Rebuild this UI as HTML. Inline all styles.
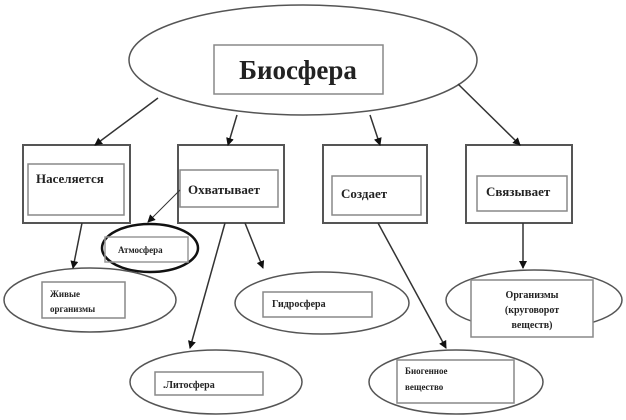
<!DOCTYPE html>
<html><head><meta charset="utf-8"><style>
html,body{margin:0;padding:0;background:#fff;}
svg{display:block;}
text{font-family:"Liberation Serif","Noto Serif CJK SC",serif;font-weight:bold;fill:#222;}
</style></head><body>
<svg width="626" height="420" viewBox="0 0 626 420" xmlns="http://www.w3.org/2000/svg">
<defs><marker id="a" markerWidth="8" markerHeight="8" refX="7" refY="4" orient="auto" markerUnits="userSpaceOnUse"><path d="M0,0 L8,4 L0,8 z" fill="#111"/></marker></defs>
<g fill="none" stroke="#555" stroke-width="1.5">
<ellipse cx="303" cy="60" rx="174" ry="55"/>
<rect x="214" y="45" width="169" height="49" stroke="#888"/>
<rect x="23" y="145" width="107" height="78" stroke-width="2"/>
<rect x="28" y="164" width="96" height="51" stroke="#888"/>
<rect x="178" y="145" width="106" height="78" stroke-width="2"/>
<rect x="180" y="170" width="98" height="37" stroke="#888"/>
<rect x="323" y="145" width="104" height="78" stroke-width="2"/>
<rect x="332" y="176" width="89" height="39" stroke="#888"/>
<rect x="466" y="145" width="106" height="78" stroke-width="2"/>
<rect x="477" y="176" width="90" height="35" stroke="#888"/>
<ellipse cx="150" cy="248" rx="48" ry="24" stroke="#111" stroke-width="2.5"/>
<rect x="105" y="237" width="83" height="25" stroke="#999"/>
<ellipse cx="90" cy="300" rx="86" ry="32"/>
<rect x="42" y="282" width="83" height="36" stroke="#888"/>
<ellipse cx="322" cy="303" rx="87" ry="31"/>
<rect x="263" y="292" width="109" height="25" stroke="#888"/>
<ellipse cx="216" cy="382" rx="86" ry="32"/>
<rect x="155" y="372" width="108" height="23" stroke="#888"/>
<ellipse cx="534" cy="300" rx="88" ry="30"/>
<rect x="471" y="280" width="122" height="57" stroke="#888" fill="#fff"/>
<ellipse cx="456" cy="382" rx="87" ry="32"/>
<rect x="397" y="360" width="117" height="43" stroke="#888"/>
</g>
<g stroke="#333" stroke-width="1.5" marker-end="url(#a)">
<line x1="158" y1="98" x2="95" y2="145"/>
<line x1="237" y1="115" x2="228" y2="145"/>
<line x1="370" y1="115" x2="380" y2="145"/>
<line x1="458" y1="84" x2="520" y2="145"/>
<line x1="180" y1="190" x2="148" y2="222" stroke-width="1"/>
<line x1="82" y1="223" x2="73" y2="268"/>
<line x1="245" y1="223" x2="263" y2="268"/>
<line x1="225" y1="223" x2="190" y2="348"/>
<line x1="523" y1="223" x2="523" y2="268"/>
<line x1="378" y1="223" x2="446" y2="348"/>
</g>
<text x="298" y="79" font-size="27" text-anchor="middle">Биосфера</text>
<text x="36" y="183" font-size="13">Населяется</text>
<text x="188" y="194" font-size="13">Охватывает</text>
<text x="341" y="198" font-size="13">Создает</text>
<text x="486" y="196" font-size="13">Связывает</text>
<text x="118" y="253" font-size="9">Атмосфера</text>
<text x="50" y="297" font-size="9">Живые</text>
<text x="50" y="312" font-size="9">организмы</text>
<text x="272" y="307" font-size="10">Гидросфера</text>
<text x="163" y="388" font-size="10">.Литосфера</text>
<text x="532" y="298" font-size="10" text-anchor="middle">Организмы</text>
<text x="532" y="313" font-size="10" text-anchor="middle">(круговорот</text>
<text x="532" y="328" font-size="10" text-anchor="middle">веществ)</text>
<text x="405" y="374" font-size="9">Биогенное</text>
<text x="405" y="390" font-size="9">вещество</text>
</svg>
</body></html>
